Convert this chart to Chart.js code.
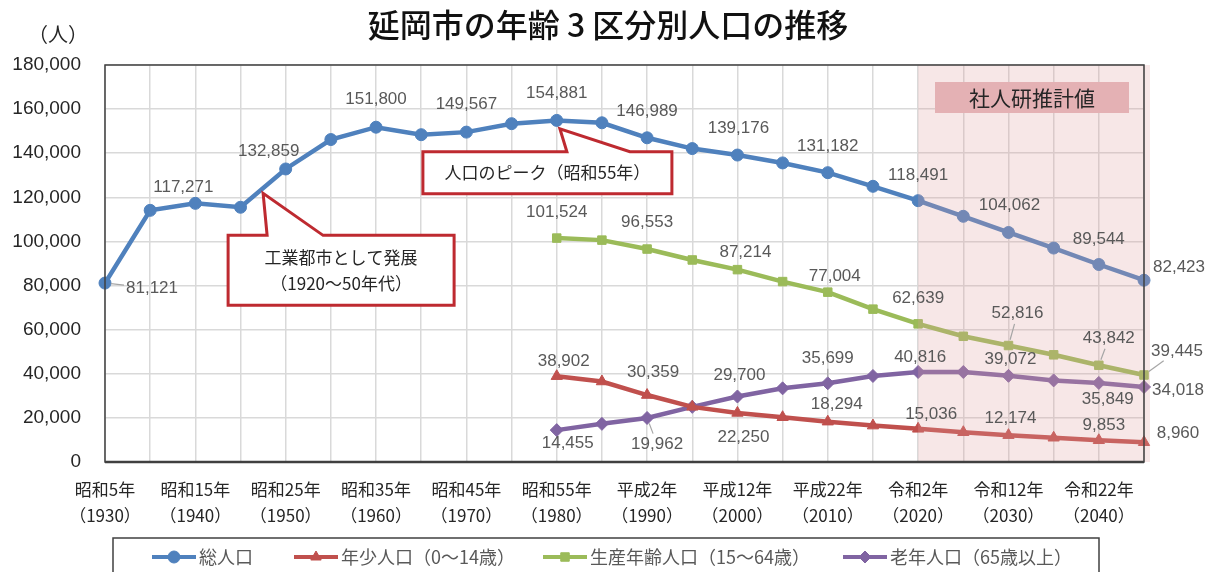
<!DOCTYPE html>
<html lang="ja">
<head>
<meta charset="utf-8">
<title>延岡市の年齢3区分別人口の推移</title>
<script src="https://cdn.jsdelivr.net/npm/chart.js@4.4.1/dist/chart.umd.min.js"></script>
<style>
  html, body { margin: 0; padding: 0; background: #fff; }
  #wrap { width: 1213px; height: 572px; overflow: hidden; }
</style>
</head>
<body>
<div id="wrap"><canvas id="chart" width="1213" height="572"></canvas></div>
<script>
// データ（5年ごと）
const years = [1930, 1935, 1940, 1945, 1950, 1955, 1960, 1965, 1970, 1975, 1980, 1985,
               1990, 1995, 2000, 2005, 2010, 2015, 2020, 2025, 2030, 2035, 2040, 2045];
const eraLabels = ['昭和5年', '昭和15年', '昭和25年', '昭和35年', '昭和45年', '昭和55年',
                   '平成2年', '平成12年', '平成22年', '令和2年', '令和12年', '令和22年'];
const yearLabels = ['（1930）', '（1940）', '（1950）', '（1960）', '（1970）', '（1980）',
                    '（1990）', '（2000）', '（2010）', '（2020）', '（2030）', '（2040）'];

const totalPop = [81121, 114100, 117271, 115500, 132859, 146200, 151800, 148400, 149567, 153400, 154881, 153800,
                  146989, 142100, 139176, 135600, 131182, 125000, 118491, 111400, 104062, 97000, 89544, 82423];
const youngPop = [null, null, null, null, null, null, null, null, null, null, 38902, 36500,
                  30359, 25000, 22250, 20300, 18294, 16500, 15036, 13500, 12174, 11000, 9853, 8960];
const workingPop = [null, null, null, null, null, null, null, null, null, null, 101524, 100600,
                    96553, 91600, 87214, 81800, 77004, 69300, 62639, 57000, 52816, 48600, 43842, 39445];
const elderlyPop = [null, null, null, null, null, null, null, null, null, null, 14455, 17300,
                    19962, 25000, 29700, 33400, 35699, 39000, 40816, 40800, 39072, 37000, 35849, 34018];

const seriesNames = ['総人口', '年少人口（0～14歳）', '生産年齢人口（15～64歳）', '老年人口（65歳以上）'];
const seriesColors = ['#4f81bd', '#c0504d', '#9bbb59', '#8064a2'];
const seriesMarkers = ['circle', 'triangle', 'rect', 'rectRot'];

const titleText = '延岡市の年齢 3 区分別人口の推移';
const unitText = '（人）';
const projectionStart = 2020;
const projectionText = '社人研推計値';
const callout1 = ['工業都市として発展', '（1920～50年代）'];
const callout2 = ['人口のピーク（昭和55年）'];

// ラベルの位置（データ点からのずれ, px）[index, dx, dy, 引出線]
const labelSpots = [
  [[0, 47, 5, true], [2, -12, -16], [4, -17, -18], [6, 0, -28], [8, 0, -28], [10, 0, -27],
   [12, 0, -26], [14, 1, -27], [16, 0, -26], [18, 0, -25], [20, 1, -27], [22, 0, -25], [23, 35, -13]],
  [[10, 7, -15], [12, 6, -23], [14, 6, 24], [16, 9, -17], [18, 13, -15], [20, 2, -17], [22, 5, -15], [23, 34, -9]],
  [[10, 0, -26], [12, 0, -27], [14, 8, -17], [16, 7, -16], [18, 0, -26], [20, 9, -32, true],
   [22, 10, -27, true], [23, 33, -24, true]],
  [[10, 11, 13], [12, 10, 26, true], [14, 2, -21], [16, 0, -25, true], [18, 2, -15], [20, 2, -17],
   [22, 9, 16], [23, 34, 3]]
];

const NUM_FONT = "'Liberation Sans', 'Noto Sans CJK JP', sans-serif";
const JP_FONT = "'Noto Sans CJK JP', 'Noto Sans CJK SC', sans-serif";

function fmt(v) {
  return v === 0 ? '0' : v.toLocaleString('en-US');
}

const makeSet = (i, data) => ({
  label: seriesNames[i],
  data: data,
  borderColor: seriesColors[i],
  backgroundColor: seriesColors[i],
  pointBorderColor: seriesColors[i],
  pointBackgroundColor: seriesColors[i],
  borderWidth: 4.5,
  pointStyle: seriesMarkers[i],
  pointRadius: seriesMarkers[i] === 'triangle' || seriesMarkers[i] === 'rectRot' ? 6.5 : 6,
  pointBorderWidth: 1,
  tension: 0,
  spanGaps: false
});

const decor = {
  id: 'decor',
  afterDatasetsDraw(chart) {
    const { ctx, chartArea: a, scales: { x, y } } = chart;
    ctx.save();
    // 推計値の範囲
    const sx = x.getPixelForValue(years.indexOf(projectionStart));
    ctx.fillStyle = 'rgba(222,160,160,0.25)';
    ctx.fillRect(sx, a.top, a.right + 6 - sx, a.bottom - a.top);

    // 枠
    ctx.strokeStyle = '#404040';
    ctx.lineWidth = 1.5;
    ctx.strokeRect(a.left, a.top, a.right - a.left, a.bottom - a.top);
    ctx.lineWidth = 2.5;
    ctx.beginPath();
    ctx.moveTo(a.left, a.bottom);
    ctx.lineTo(a.right, a.bottom);
    ctx.stroke();

    // データラベル
    ctx.font = '17px ' + NUM_FONT;
    ctx.textAlign = 'center';
    ctx.textBaseline = 'middle';
    chart.data.datasets.forEach((ds, di) => {
      const meta = chart.getDatasetMeta(di);
      labelSpots[di].forEach(([i, dx, dy, leader]) => {
        const pt = meta.data[i];
        const txt = fmt(ds.data[i]);
        const cx = pt.x + dx, cy = pt.y + dy;
        if (leader) {
          const len = Math.hypot(dx, dy);
          const ux = dx / len, uy = dy / len;
          const w = ctx.measureText(txt).width / 2, h = 8.5;
          const t = Math.min(Math.abs(ux) > 0.01 ? w / Math.abs(ux) : 1e9, Math.abs(uy) > 0.01 ? h / Math.abs(uy) : 1e9);
          ctx.strokeStyle = '#a6a6a6';
          ctx.lineWidth = 1.2;
          ctx.beginPath();
          ctx.moveTo(pt.x + ux * 6, pt.y + uy * 6);
          ctx.lineTo(cx - ux * (t + 2), cy - uy * (t + 2));
          ctx.stroke();
        }
        ctx.fillStyle = '#595959';
        ctx.fillText(txt, cx, cy);
      });
    });
    ctx.restore();
  },
  afterDraw(chart) {
    const { ctx, chartArea: a, scales: { x, y } } = chart;
    ctx.save();

    // 吹き出し
    function bubble(box, base1, base2, tip, lines, lineGap) {
      ctx.beginPath();
      ctx.moveTo(box.l, box.t);
      ctx.lineTo(base1, box.t);
      ctx.lineTo(tip.x, tip.y);
      ctx.lineTo(base2, box.t);
      ctx.lineTo(box.r, box.t);
      ctx.lineTo(box.r, box.b);
      ctx.lineTo(box.l, box.b);
      ctx.closePath();
      ctx.fillStyle = '#ffffff';
      ctx.fill();
      ctx.strokeStyle = '#be2a30';
      ctx.lineWidth = 3;
      ctx.lineJoin = 'miter';
      ctx.stroke();
      ctx.fillStyle = '#262626';
      ctx.font = '17px ' + JP_FONT;
      ctx.textAlign = 'center';
      ctx.textBaseline = 'middle';
      const cx = (box.l + box.r) / 2;
      const cy = (box.t + box.b) / 2;
      lines.forEach((s, k) => {
        ctx.fillText(s, cx, cy + (k - (lines.length - 1) / 2) * lineGap);
      });
    }
    const tip1 = { x: x.getPixelForValue(3.5), y: y.getPixelForValue(121800) };
    bubble({ l: tip1.x - 35, r: tip1.x + 191, t: tip1.y + 42, b: tip1.y + 112 },
           tip1.x + 4, tip1.x + 60, tip1, callout1, 26);
    const tip2 = { x: x.getPixelForValue(10.07), y: y.getPixelForValue(151100) };
    bubble({ l: tip2.x - 137, r: tip2.x + 112, t: tip2.y + 23, b: tip2.y + 65 },
           tip2.x + 7, tip2.x + 70, tip2, callout2, 0);

    // 社人研推計値
    ctx.fillStyle = '#e4b1b4';
    ctx.fillRect(a.right - 209, a.top + 17, 194, 31);
    ctx.fillStyle = '#262626';
    ctx.font = '21px ' + JP_FONT;
    ctx.textAlign = 'center';
    ctx.textBaseline = 'middle';
    ctx.fillText(projectionText, a.right - 112, a.top + 33);

    // タイトル・単位
    ctx.font = '500 32px ' + JP_FONT;
    ctx.fillStyle = '#111111';
    ctx.fillText(titleText, 608, 25);
    ctx.font = '20px ' + JP_FONT;
    ctx.fillStyle = '#262626';
    ctx.fillText(unitText, 58, 34);

    // 凡例
    ctx.strokeStyle = '#404040';
    ctx.lineWidth = 1.5;
    ctx.strokeRect(113, 538, 986, 50);
    const legendX = [152, 294, 543, 843];
    const ly = 557;
    chart.data.datasets.forEach((ds, i) => {
      const lx = legendX[i];
      ctx.strokeStyle = seriesColors[i];
      ctx.fillStyle = seriesColors[i];
      ctx.lineWidth = 4;
      ctx.beginPath();
      ctx.moveTo(lx, ly);
      ctx.lineTo(lx + 44, ly);
      ctx.stroke();
      ctx.lineWidth = 1;
      Chart.helpers.drawPoint(ctx, { pointStyle: seriesMarkers[i], radius: 6, rotation: 0, borderWidth: 1 }, lx + 22, ly);
      ctx.fillStyle = '#595959';
      ctx.font = '18px ' + JP_FONT;
      ctx.textAlign = 'left';
      ctx.fillText(ds.label, lx + 47, ly);
    });
    ctx.restore();
  }
};

new Chart(document.getElementById('chart'), {
  type: 'line',
  data: {
    labels: years.map(String),
    datasets: [
      makeSet(0, totalPop),
      makeSet(1, youngPop),
      makeSet(2, workingPop),
      makeSet(3, elderlyPop)
    ]
  },
  options: {
    responsive: false,
    animation: false,
    layout: { padding: { top: 65, right: 69, bottom: 0, left: 0 } },
    scales: {
      x: {
        offset: false,
        afterFit(scale) { scale.height = 110; },
        grid: { color: '#d9d9d9', lineWidth: 1.5, drawTicks: false },
        border: { display: false },
        ticks: {
          autoSkip: false,
          maxRotation: 0,
          padding: 15,
          color: '#262626',
          font: { family: JP_FONT, size: 17, lineHeight: 1.5 },
          callback: function (value, index) {
            return index % 2 === 0 ? [eraLabels[index / 2], yearLabels[index / 2]] : '';
          }
        }
      },
      y: {
        min: 0,
        max: 180000,
        afterFit(scale) { scale.width = 105; },
        grid: { color: '#d9d9d9', lineWidth: 1.5, drawTicks: false },
        border: { display: false },
        ticks: {
          stepSize: 20000,
          padding: 24,
          color: '#262626',
          font: { family: NUM_FONT, size: 19 },
          callback: v => fmt(v)
        }
      }
    },
    plugins: {
      legend: { display: false },
      title: { display: false },
      tooltip: { enabled: false }
    }
  },
  plugins: [decor]
});
</script>
</body>
</html>
